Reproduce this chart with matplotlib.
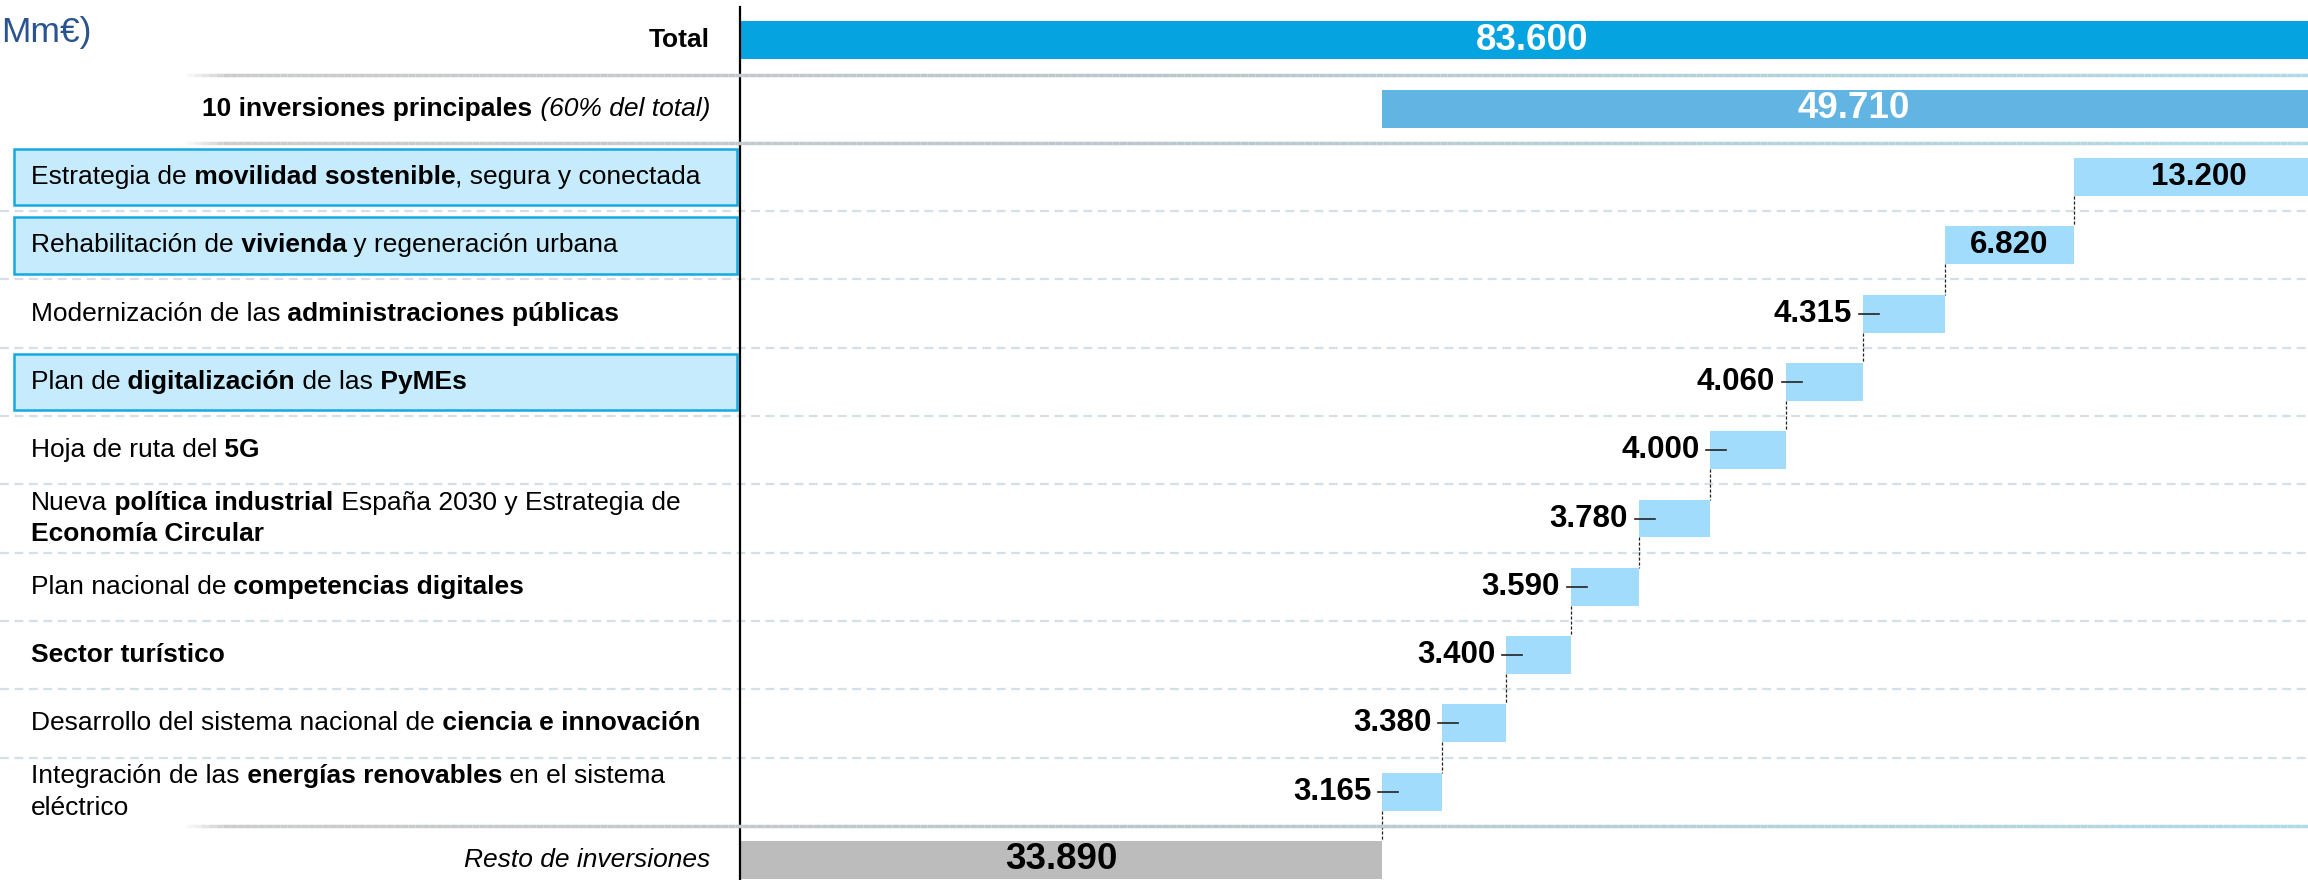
import numpy as np
import matplotlib
matplotlib.use('Agg')
import matplotlib.pyplot as plt
from matplotlib import transforms
from matplotlib.collections import LineCollection
from matplotlib.patches import Rectangle
from matplotlib.colors import to_rgb

plt.rcParams['font.family'] = ['Liberation Sans', 'DejaVu Sans']

# datos (Mm€)
total = 83600
top10 = 49710
resto = 33890
valores = [13200, 6820, 4315, 4060, 4000, 3780, 3590, 3400, 3380, 3165]
etiquetas_valor = ['13.200', '6.820', '4.315', '4.060', '4.000', '3.780', '3.590', '3.400', '3.380', '3.165']
etiqueta_total = '83.600'
etiqueta_top10 = '49.710'
etiqueta_resto = '33.890'

# textos de las categorias: lineas -> (texto, estilo) ; n normal, b negrita, i cursiva
categorias = [
    [[('Estrategia de', 'n'), (' movilidad sostenible', 'b'), (', segura y conectada', 'n')]],
    [[('Rehabilitación de', 'n'), (' vivienda', 'b'), (' y regeneración urbana', 'n')]],
    [[('Modernización de las', 'n'), (' administraciones públicas', 'b')]],
    [[('Plan de', 'n'), (' digitalización', 'b'), (' de las', 'n'), (' PyMEs', 'b')]],
    [[('Hoja de ruta del', 'n'), (' 5G', 'b')]],
    [[('Nueva', 'n'), (' política industrial', 'b'), (' España 2030 y Estrategia de', 'n')],
     [('Economía Circular', 'b')]],
    [[('Plan nacional de', 'n'), (' competencias digitales', 'b')]],
    [[('Sector turístico', 'b')]],
    [[('Desarrollo del sistema nacional de', 'n'), (' ciencia e innovación', 'b')]],
    [[('Integración de las', 'n'), (' energías renovables', 'b'), (' en el sistema', 'n')],
     [('eléctrico', 'n')]],
]
destacadas = [0, 1, 3]   # categorias con recuadro
dentro = [0, 1]          # valor escrito dentro de la barra

# colores
c_total = '#05A3E0'
c_top10 = '#62B4E3'
c_item = '#A2DCFC'
c_resto = '#BBBCBB'
c_caja = '#C5EBFC'
c_borde = '#16A9E1'

W, H = 2308, 880
fig = plt.figure(figsize=(W / 100, H / 100), dpi=100)
x0_px = 740
ax = fig.add_axes([x0_px / W, 0, 1 - x0_px / W, 1])
ax.set_xlim(0, 82740)
ax.set_ylim(12.293, -0.592)
ax.axis('off')

u = 82740 / (W - x0_px)  # unidades por pixel
trans_lab = transforms.blended_transform_factory(fig.transFigure, ax.transData)

alto = 0.556
n = len(valores)
filas = np.arange(2, 2 + n)
fila_resto = 2 + n

# inicio de cada barra de la cascada (de abajo hacia arriba)
lefts = [resto + sum(valores[i + 1:]) for i in range(n)]

# lineas separadoras
def separador_degradado(y):
    xs = np.linspace(180, W, 300) / W
    stops = [(0.0, '#FFFFFF'), (0.02, '#CCCCCC'), (0.45, '#B9C7CC'), (1.0, '#B0DBE6')]
    pos = np.array([s[0] for s in stops])
    cols = np.array([to_rgb(s[1]) for s in stops])
    t = (xs[:-1] - xs[0]) / (xs[-1] - xs[0])
    colores = np.column_stack([np.interp(t, pos, cols[:, k]) for k in range(3)])
    segs = [[(xs[i], y), (xs[i + 1], y)] for i in range(len(xs) - 1)]
    lc = LineCollection(segs, colors=colores, linewidths=2.5, transform=trans_lab, zorder=1)
    lc.set_clip_on(False)
    fig.add_artist(lc)

for y in [0.5, 1.5, fila_resto - 0.5]:
    separador_degradado(y)

for f in filas[:-1]:
    ax.plot([0, 1], [f + 0.5, f + 0.5], transform=trans_lab, color='#D3E0E5',
            lw=1.6, dashes=(4, 2.5), clip_on=False, zorder=1)

# eje vertical
ax.plot([0, 0], [-0.592 + 7 / 68.3, 12.293], color='black', lw=1.6, clip_on=False, zorder=5)

# barras
ax.barh(0, total, height=alto, color=c_total, zorder=3)
ax.barh(1, top10, left=resto, height=alto, color=c_top10, zorder=3)
ax.barh(filas, valores, left=lefts, height=alto, color=c_item, zorder=3)
ax.barh(fila_resto, resto, height=alto, color=c_resto, zorder=3)

ax.text(total / 2, 0, etiqueta_total, ha='center', va='center', color='white',
        fontsize=26.5, fontweight='bold', zorder=4)
ax.text(resto + top10 / 2, 1, etiqueta_top10, ha='center', va='center', color='white',
        fontsize=26.5, fontweight='bold', zorder=4)
ax.text(resto / 2, fila_resto, etiqueta_resto, ha='center', va='center', color='black',
        fontsize=26.5, fontweight='bold', zorder=4)

for i in range(n):
    f = filas[i]
    l = lefts[i]
    if i in dentro:
        ax.text(l + valores[i] / 2, f, etiquetas_valor[i], ha='center', va='center',
                fontsize=22.5, fontweight='bold', zorder=4)
    else:
        ax.text(l - 11 * u, f, etiquetas_valor[i], ha='right', va='center',
                fontsize=22.5, fontweight='bold', zorder=4)
        ax.plot([l - 4 * u, l + 16 * u], [f, f], color='#222222', lw=1.2, zorder=4)
    # conectores discontinuos
    ax.plot([l, l], [f + alto / 2, f + 1 - alto / 2], color='#222222', lw=0.9,
            dashes=(2.5, 1.5), zorder=2)

# textos con mezcla de estilos
def texto_mixto(x, y, partes, ha='left', size=19):
    orden = partes if ha == 'left' else partes[::-1]
    prev = None
    for txt, est in orden:
        kw = dict(fontsize=size, color='black',
                  fontweight='bold' if est == 'b' else 'normal',
                  fontstyle='italic' if est == 'i' else 'normal', zorder=6)
        if prev is None:
            prev = ax.text(x, y, txt, transform=trans_lab, ha=ha, va='center', **kw)
        else:
            prev = ax.annotate(txt, xy=(1 if ha == 'left' else 0, 0), xycoords=prev,
                               ha=ha, va='bottom', **kw)

x_izq = 31 / W
x_der = 710 / W
texto_mixto(x_der, 0, [('Total', 'b')], ha='right')
texto_mixto(x_der, 1, [('10 inversiones principales', 'b'), (' (60% del total)', 'i')], ha='right')
texto_mixto(x_der, fila_resto, [('Resto de inversiones', 'i')], ha='right')

for i, lineas in enumerate(categorias):
    f = filas[i]
    if i in destacadas:
        caja = Rectangle((14 / W, f - 0.415), (737 - 14) / W, 0.83, transform=trans_lab,
                         facecolor=c_caja, edgecolor=c_borde, lw=1.8, clip_on=False, zorder=2)
        ax.add_patch(caja)
    if len(lineas) == 1:
        texto_mixto(x_izq, f, lineas[0])
    else:
        texto_mixto(x_izq, f - 0.232, lineas[0])
        texto_mixto(x_izq, f + 0.232, lineas[1])

# titulo (cortado en la imagen original)
fig.text(1 / W, 1 - 42 / H, 'Mm€)', ha='left', va='baseline', fontsize=25.5, color='#2B5390')

plt.savefig('out.png', dpi=100)
